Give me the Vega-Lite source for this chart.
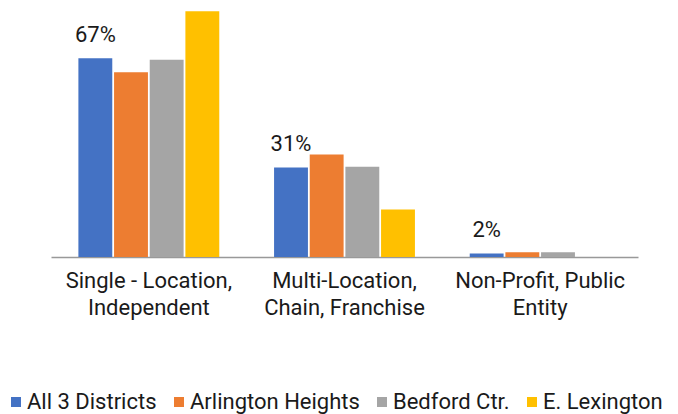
{
  "$schema": "https://vega.github.io/schema/vega-lite/v6.json",
  "width": 587,
  "height": 252,
  "autosize": {"type": "none"},
  "padding": {"left": 51, "top": 5, "right": 40, "bottom": 157},
  "background": "white",
  "config": {"view": {"stroke": null}, "font": "Roboto"},
  "data": {
    "values": [
      {"category": "Single - Location, Independent", "series": "All 3 Districts", "value": 67, "label": "67%"},
      {"category": "Single - Location, Independent", "series": "Arlington Heights", "value": 62.3, "label": ""},
      {"category": "Single - Location, Independent", "series": "Bedford Ctr.", "value": 66.5, "label": ""},
      {"category": "Single - Location, Independent", "series": "E. Lexington", "value": 82.9, "label": ""},
      {"category": "Multi-Location, Chain, Franchise", "series": "All 3 Districts", "value": 30.2, "label": "31%"},
      {"category": "Multi-Location, Chain, Franchise", "series": "Arlington Heights", "value": 34.6, "label": ""},
      {"category": "Multi-Location, Chain, Franchise", "series": "Bedford Ctr.", "value": 30.4, "label": ""},
      {"category": "Multi-Location, Chain, Franchise", "series": "E. Lexington", "value": 16.0, "label": ""},
      {"category": "Non-Profit, Public Entity", "series": "All 3 Districts", "value": 1.2, "label": "2%"},
      {"category": "Non-Profit, Public Entity", "series": "Arlington Heights", "value": 1.6, "label": ""},
      {"category": "Non-Profit, Public Entity", "series": "Bedford Ctr.", "value": 1.6, "label": ""},
      {"category": "Non-Profit, Public Entity", "series": "E. Lexington", "value": 0, "label": ""}
    ]
  },
  "encoding": {
    "x": {
      "field": "category",
      "type": "nominal",
      "sort": null,
      "scale": {"paddingInner": 0.28, "paddingOuter": 0.14},
      "axis": {
        "title": null,
        "labelAngle": 0,
        "ticks": false,
        "domainColor": "#999999",
        "domainWidth": 1.5,
        "labelFontSize": 22,
        "labelColor": "#1a1a1a",
        "labelPadding": 13,
        "labelLineHeight": 27,
        "labelLimit": 300,
        "labelExpr": "datum.value == 'Single - Location, Independent' ? ['Single - Location,', 'Independent'] : datum.value == 'Multi-Location, Chain, Franchise' ? ['Multi-Location,', 'Chain, Franchise'] : ['Non-Profit, Public', 'Entity']"
      }
    },
    "xOffset": {
      "field": "series",
      "type": "nominal",
      "sort": null,
      "scale": {"paddingInner": 0.05}
    },
    "y": {
      "field": "value",
      "type": "quantitative",
      "scale": {"domain": [0, 85]},
      "axis": null
    }
  },
  "layer": [
    {
      "mark": {"type": "bar"},
      "encoding": {
        "color": {
          "field": "series",
          "type": "nominal",
          "sort": null,
          "scale": {
            "domain": ["All 3 Districts", "Arlington Heights", "Bedford Ctr.", "E. Lexington"],
            "range": ["#4472C4", "#ED7D31", "#A5A5A5", "#FFC000"]
          },
          "legend": {
            "title": null,
            "orient": "none",
            "direction": "horizontal",
            "legendX": -46,
            "legendY": 386,
            "padding": 0,
            "symbolType": "square",
            "symbolSize": 100,
            "symbolStrokeWidth": 0,
            "labelFontSize": 22,
            "labelLimit": 300,
            "labelColor": "#1a1a1a",
            "labelOffset": 0,
            "columnPadding": 11
          }
        }
      }
    },
    {
      "transform": [{"filter": "datum.label != ''"}],
      "mark": {"type": "text", "baseline": "bottom", "dy": -11, "fontSize": 22, "color": "#1a1a1a"},
      "encoding": {"text": {"field": "label"}}
    }
  ]
}
